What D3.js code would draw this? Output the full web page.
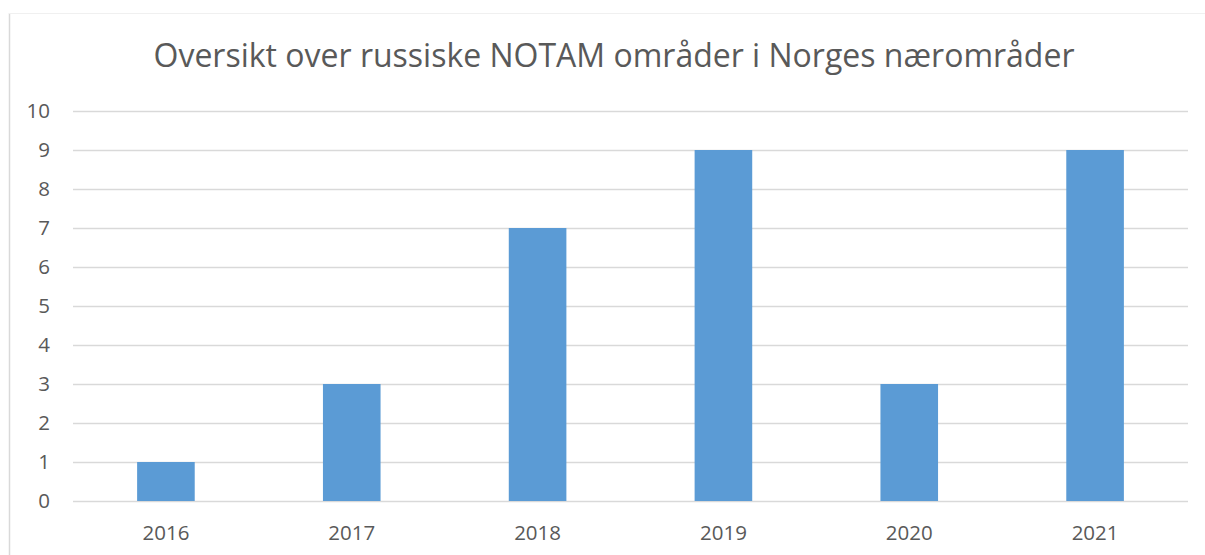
<!DOCTYPE html>
<html>
<head>
<meta charset="utf-8">
<script src="https://cdn.jsdelivr.net/npm/d3@7"></script>
<style>
  body { margin: 0; background: #fff; }
  svg text { font-family: "Open Sans", "Liberation Sans", sans-serif; fill: #595959; }
</style>
</head>
<body>
<div id="chart"></div>
<script>
// Data
const years = ['2016', '2017', '2018', '2019', '2020', '2021'];
const counts = [1, 3, 7, 9, 3, 9];
const yTicks = [0, 1, 2, 3, 4, 5, 6, 7, 8, 9, 10];
const title = 'Oversikt over russiske NOTAM områder i Norges nærområder';

const W = 1205, H = 555;
const plot = { left: 73, right: 1188, top: 111, bottom: 501 };

const svg = d3.select("#chart").append("svg")
    .attr("width", W)
    .attr("height", H);

// chart frame (only left + top edges visible in the crop)
svg.append("line")
    .attr("x1", 9.5).attr("x2", 9.5).attr("y1", 13).attr("y2", H)
    .attr("stroke", "#d9d9d9").attr("stroke-width", 1.5);
svg.append("line")
    .attr("x1", 9).attr("x2", W).attr("y1", 13.5).attr("y2", 13.5)
    .attr("stroke", "#f0f0f0").attr("stroke-width", 1);

const x = d3.scaleBand()
    .domain(years)
    .range([plot.left, plot.right])
    .paddingInner(0.69)
    .paddingOuter(0.345);

const y = d3.scaleLinear()
    .domain([0, 10])
    .range([plot.bottom, plot.top]);

// gridlines
svg.append("g")
    .selectAll("line")
    .data(yTicks)
    .enter()
    .append("line")
    .attr("x1", plot.left)
    .attr("x2", plot.right)
    .attr("y1", d => Math.round(y(d)) + 0.5)
    .attr("y2", d => Math.round(y(d)) + 0.5)
    .attr("stroke", "#d9d9d9")
    .attr("stroke-width", 1.3);

// y axis labels
const yAxis = svg.append("g")
    .attr("transform", `translate(${plot.left - 23},0)`)
    .call(d3.axisLeft(y).tickValues(yTicks).tickSize(0).tickPadding(0));
yAxis.select(".domain").remove();
yAxis.selectAll("text")
    .attr("font-size", 20.5)
    .style("font-family", '"Open Sans", "Liberation Sans", sans-serif')
    .attr("fill", "#595959");

// bars
svg.append("g")
    .selectAll("rect")
    .data(counts)
    .enter()
    .append("rect")
    .attr("x", (d, i) => x(years[i]))
    .attr("y", d => y(d))
    .attr("width", x.bandwidth())
    .attr("height", d => y(0) - y(d))
    .attr("fill", "#5b9bd5");

// x axis labels
const xAxis = svg.append("g")
    .attr("transform", `translate(0,525)`)
    .call(d3.axisBottom(x).tickSize(0).tickPadding(0));
xAxis.select(".domain").remove();
xAxis.selectAll("text")
    .attr("font-size", 20.5)
    .style("font-family", '"Open Sans", "Liberation Sans", sans-serif')
    .attr("fill", "#595959");

// title
svg.append("text")
    .attr("x", 614)
    .attr("y", 67)
    .attr("text-anchor", "middle")
    .attr("font-size", 32)
    .text(title);
</script>
</body>
</html>
